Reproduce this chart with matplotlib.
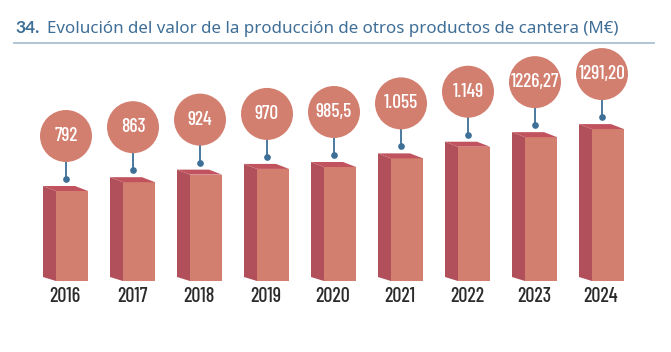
import matplotlib
matplotlib.use("Agg")
import matplotlib.pyplot as plt
from matplotlib.patches import Polygon
from matplotlib.lines import Line2D
from matplotlib.transforms import offset_copy

years = ["2016", "2017", "2018", "2019", "2020", "2021", "2022", "2023", "2024"]
values = [792, 863, 924, 970, 985.5, 1055, 1149, 1226.27, 1291.20]
labels = ["792", "863", "924", "970", "985,5", "1.055", "1.149", "1226,27", "1291,20"]

title_num = "34."
title_txt = "Evolución del valor de la producción de otros productos de cantera (M€)"

front_c = "#d37f70"
side_c = "#b1505a"
top_c = "#c0535d"
pin_c = "#3d6f97"
blue = "#3f6e97"

W, H = 671, 352
fig = plt.figure(figsize=(W / 100, H / 100), dpi=100)
ax = fig.add_axes([0, 0, 1, 1])
ax.axis("off")

# scale: 67 px per bar slot, 0.124 px per unit
px_x = 1 / 67
px_y = 1 / 0.124
ax.set_xlim(-65 * px_x, (W - 65) * px_x)
ax.set_ylim((289.2 - H) * px_y, 289.2 * px_y)
base = 66  # bars start here

narrow = ["Barlow Condensed", "Liberation Sans Narrow", "DejaVu Sans"]
sans = ["Noto Sans", "DejaVu Sans"]

dot_tr = offset_copy(ax.transData, fig=fig, x=0, y=12 * 0.72, units="points")
circ_tr = offset_copy(ax.transData, fig=fig, x=0, y=55 * 0.72, units="points")

for i, v in enumerate(values):
    fl, fr = i - 9 * px_x, i + 23 * px_x
    sl = i - 22 * px_x
    up = 5 * px_y
    # front face
    ax.bar(fl, v - base, width=fr - fl, bottom=base, align="edge",
           color=front_c, edgecolor="none", zorder=2)
    # side face
    ax.add_patch(Polygon([(sl, base + 4 * px_y), (fl, base), (fl, v), (sl, v + up)],
                         closed=True, facecolor=side_c, edgecolor="none", zorder=2))
    # top face
    ax.add_patch(Polygon([(sl, v + up), (sl + (fr - fl), v + up), (fr, v), (fl, v)],
                         closed=True, facecolor=top_c, edgecolor="none", zorder=3))

    cx = i + 1 * px_x
    ax.plot([cx], [v], "o", ms=3.8, color=pin_c, transform=dot_tr, zorder=4)
    ax.plot([cx, cx], [v, v + 43 * px_y], color=pin_c, lw=1.3, transform=dot_tr, zorder=3)
    ax.scatter([cx], [v], s=(52 * 0.72) ** 2, color=front_c, edgecolor="none",
               transform=circ_tr, zorder=5)
    ax.text(cx, v, labels[i], transform=circ_tr, ha="center", va="center",
            color="white", fontsize=14, fontweight=500, family=narrow, zorder=6)

    ax.text(i, (289.2 - 297) * px_y, years[i], ha="center", va="center",
            color="#2b2b2b", fontsize=14.5, fontweight=500, family=narrow)

# title
fig.text(15 / W, 1 - 33 / H, title_num, color=blue, fontsize=12.5, fontweight="bold",
         family=["Lato", "DejaVu Sans"], va="baseline", ha="left")
fig.text(47 / W, 1 - 33 / H, title_txt, color=blue, fontsize=12.2,
         family=sans, va="baseline", ha="left")
fig.add_artist(Line2D([14 / W, 654 / W], [1 - 43 / H, 1 - 43 / H], color="#a9c0d3", lw=1.3))

fig.savefig("out.png", dpi=100)
